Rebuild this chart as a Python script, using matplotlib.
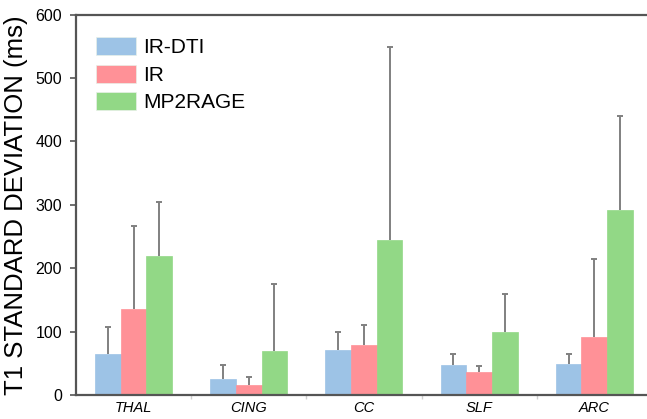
import matplotlib

matplotlib.use("Agg")
import matplotlib.pyplot as plt
import numpy as np

plt.rcParams["font.family"] = ["Liberation Sans", "DejaVu Sans"]

REGIONS = ["THAL", "CING", "CC", "SLF", "ARC"]
METHODS = ["IR-DTI", "IR", "MP2RAGE"]

IR_DTI_MEAN = [64, 26, 71, 48, 49]
IR_DTI_ERR = [44, 22, 28, 16, 16]
IR_MEAN = [136, 16, 79, 36, 92]
IR_ERR = [131, 12, 31, 10, 123]
MP2RAGE_MEAN = [219, 70, 244, 100, 292]
MP2RAGE_ERR = [85, 105, 305, 59, 148]

COLORS = ["#9dc3e6", "#ff9197", "#92d886"]


def main() -> None:
    fig = plt.figure(figsize=(6.47, 4.19), dpi=100)
    ax = fig.add_axes([0.1175, 0.0573, 0.89, 0.908])

    x = np.arange(len(REGIONS))
    width = 0.223
    means = [IR_DTI_MEAN, IR_MEAN, MP2RAGE_MEAN]
    errs = [IR_DTI_ERR, IR_ERR, MP2RAGE_ERR]
    for i, (label, m, e, c) in enumerate(zip(METHODS, means, errs, COLORS)):
        xs = x + (i - 1) * width
        ax.bar(xs, m, width, color=c, edgecolor=c, linewidth=0.5, label=label, zorder=2)
        # upper error only: drop the lower cap so nothing sits on the bar top
        _, caps, _ = ax.errorbar(
            xs,
            m,
            yerr=[np.zeros(len(e)), e],
            fmt="none",
            ecolor="#808080",
            elinewidth=1.4,
            capsize=2.5,
            capthick=1.4,
            zorder=1,
        )
        caps[0].remove()

    ax.set_xlim(-0.5, 4.5)
    ax.set_ylim(0, 600)
    ax.set_yticks(range(0, 601, 100))
    ax.set_xticks(x)
    ax.set_xticklabels(REGIONS, fontsize=10.5, style="italic")
    ax.tick_params(axis="x", length=0, pad=4)
    ax.set_xticks(np.arange(0.5, 4.5, 1.0), minor=True)
    ax.tick_params(axis="x", which="minor", length=3, color="#d0d0d0", width=1)
    ax.tick_params(axis="y", length=4, width=1.2, color="#555555", labelsize=11.5, pad=6)
    ax.set_ylabel("T1 STANDARD DEVIATION (ms)", fontsize=18.5, labelpad=5)

    for side in ["left", "bottom", "top", "right"]:
        ax.spines[side].set_color("#555555")
        ax.spines[side].set_linewidth(1.6)

    leg = ax.legend(
        loc="upper left",
        bbox_to_anchor=(0.02, 0.962),
        frameon=False,
        fontsize=15,
        handlelength=1.92,
        handleheight=0.95,
        handletextpad=0.35,
        labelspacing=0.35,
        borderaxespad=0.0,
    )
    for patch in leg.get_patches():
        patch.set_edgecolor("#e8f0e8")

    fig.savefig("out.png", dpi=100)
    plt.close(fig)


if __name__ == "__main__":
    main()
